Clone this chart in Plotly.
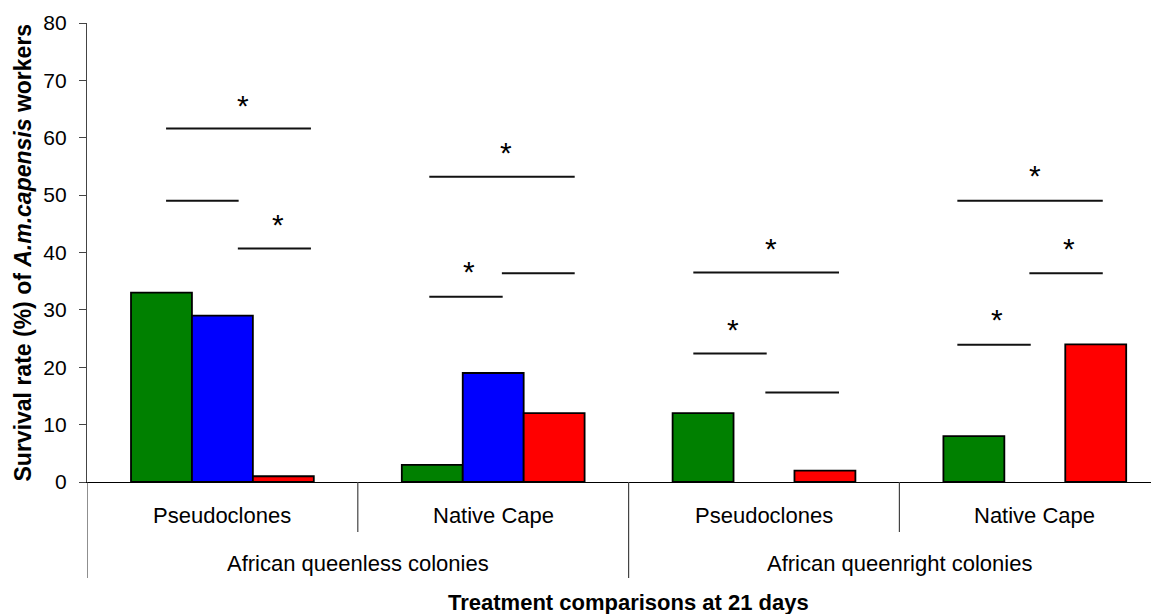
import plotly.graph_objects as go

# ---- data ----
groups = [0, 1, 2, 3]
inner_labels = ["Pseudoclones", "Native Cape", "Pseudoclones", "Native Cape"]
outer_labels = ["African queenless colonies", "African queenright colonies"]
outer_pos = [0.5, 2.5]
green_vals = [33, 3, 12, 8]
blue_vals = [29, 19, None, None]
red_vals = [1, 12, 2, 24]

# significance bars (x from, x to, y level)
sig_x0 = [-0.208, -0.208, 0.057, 0.764, 1.032, 0.764, 1.739, 1.739, 2.005, 2.714, 2.980, 2.714]
sig_x1 = [0.327, 0.060, 0.327, 1.301, 1.301, 1.035, 2.277, 2.010, 2.277, 3.251, 3.251, 2.985]
sig_y = [61.6, 49.0, 40.7, 53.2, 36.4, 32.3, 36.5, 22.4, 15.6, 49.0, 36.4, 23.9]
# asterisks
star_x = [0.075, 0.206, 1.048, 0.912, 2.025, 1.887, 3.000, 3.128, 2.862]
star_y = [65.9, 45.3, 57.8, 37.0, 41.0, 27.0, 53.8, 41.0, 28.6]

FONT = "Liberation Sans, Arial, sans-serif"

OFF = 8  # page body margin of the html page
W, H = 1159 - OFF, 614 - OFF
ML, MT, MB = 87 - OFF, 23 - OFF, 132
plot_h = H - MT - MB


def py(pixel):
    """paper y for a page pixel row below the plot"""
    return (H + OFF - MB - pixel) / plot_h


fig = go.Figure()
for vals, col in [(green_vals, "#008000"), (blue_vals, "#0000FF"), (red_vals, "#FF0000")]:
    fig.add_trace(go.Bar(x=groups, y=vals, marker=dict(color=col, line=dict(color="black", width=1.8)),
                         hoverinfo="skip", showlegend=False))

shapes = []
for x0, x1, y in zip(sig_x0, sig_x1, sig_y):
    shapes.append(dict(type="line", xref="x", yref="y", x0=x0, x1=x1, y0=y, y1=y,
                       line=dict(color="#111111", width=2)))

# category dividers
div_x = [-0.5, 0.5, 1.5, 2.5]
div_bottom = [578, 532, 578, 532]
for x, b in zip(div_x, div_bottom):
    shapes.append(dict(type="line", xref="x", yref="paper", x0=x, x1=x, y0=0, y1=py(b),
                       line=dict(color="#444444", width=1.2)))

annotations = []
for x, y in zip(star_x, star_y):
    annotations.append(dict(x=x, y=y, xref="x", yref="y", text="*", showarrow=False,
                            font=dict(family=FONT, size=30, color="black"),
                            xanchor="center", yanchor="middle", yshift=-2))
for x, t in zip(groups, inner_labels):
    annotations.append(dict(x=x, y=py(515), xref="x", yref="paper", text=t, showarrow=False,
                            font=dict(family=FONT, size=22, color="black"),
                            xanchor="center", yanchor="middle"))
for x, t in zip(outer_pos, outer_labels):
    annotations.append(dict(x=x, y=py(563), xref="x", yref="paper", text=t, showarrow=False,
                            font=dict(family=FONT, size=22, color="black"),
                            xanchor="center", yanchor="middle"))
annotations.append(dict(x=1.5, y=py(602), xref="x", yref="paper",
                        text="<b>Treatment comparisons at 21 days</b>", showarrow=False,
                        font=dict(family=FONT, size=22, color="black"),
                        xanchor="center", yanchor="middle"))
annotations.append(dict(x=(22 - OFF - ML) / (W - ML), y=0.5, xref="paper", yref="paper",
                        text="<b>Survival rate (%) of <i>A.m.capensis</i> workers</b>",
                        showarrow=False, textangle=-90,
                        font=dict(family=FONT, size=23, color="black"),
                        xanchor="center", yanchor="middle"))

x_end = -0.5 + (W - ML) / 270.8

fig.update_layout(
    width=W, height=H,
    margin=dict(l=ML, r=0, t=MT, b=MB, pad=0),
    paper_bgcolor="white", plot_bgcolor="white",
    barmode="group", bargap=0.325, bargroupgap=0,
    shapes=shapes, annotations=annotations,
    font=dict(family=FONT, color="black"),
    xaxis=dict(range=[-0.5, x_end], showticklabels=False, ticks="", showgrid=False,
               zeroline=False, showline=True, linecolor="black", linewidth=1.2, fixedrange=True),
    yaxis=dict(range=[0, 80], dtick=10, tick0=0, showgrid=False, zeroline=False,
               showline=True, linecolor="#444444", linewidth=1.2, ticks="outside",
               ticklen=7, tickcolor="#444444", tickwidth=1.2,
               tickfont=dict(family=FONT, size=21, color="black"), ticklabelstandoff=8,
               fixedrange=True),
)

fig.write_html("out.html")
